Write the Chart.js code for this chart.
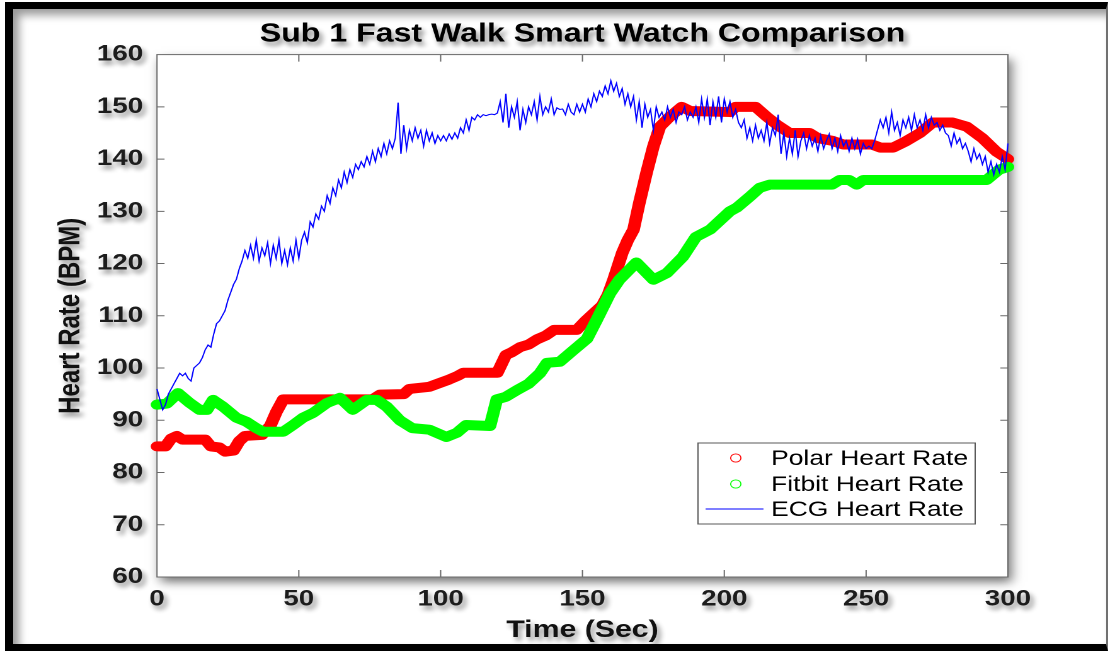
<!DOCTYPE html>
<html>
<head>
<meta charset="utf-8">
<script src="https://cdn.jsdelivr.net/npm/chart.js@4.4.1/dist/chart.umd.min.js"></script>
<style>
html,body{margin:0;padding:0;background:#fff;width:1110px;height:651px;overflow:hidden;}
#wrap{position:absolute;left:0;top:0;width:881px;height:651px;transform:scaleX(1.2599);transform-origin:0 0;}
#frame{position:absolute;left:5px;top:2px;width:1103px;height:649px;box-sizing:border-box;
  border-top:7px solid #000;border-left:8px solid #000;border-bottom:7px solid #000;border-right:2px solid #707070;
  box-shadow:inset 6px 6px 9px rgba(0,0,0,0.4);pointer-events:none;}
</style>
</head>
<body>
<div id="wrap"><canvas id="c"></canvas></div>
<div id="frame"></div>
<script>
// ---------------- data ----------------
const chartTitle = 'Sub 1 Fast Walk Smart Watch Comparison';
const xTitle = 'Time (Sec)';
const yTitle = 'Heart Rate (BPM)';
const xTicks = [0, 50, 100, 150, 200, 250, 300];
const yTicks = [60, 70, 80, 90, 100, 110, 120, 130, 140, 150, 160];
const seriesNames = ['Polar Heart Rate', 'Fitbit Heart Rate', 'ECG Heart Rate'];

const polarTime = [0,3,5,7,9,17,19,22,24,27,29,31,37,40,42,44.5,76,78.6,87,89,96,99,103,106,108,120,123,125,128,131,134,137,140,148,151,154,157,159,161,164,166,168,170,172.6,175,177.3,180.8,185,188,202,204,211,215,218.5,223,230,233,238,242,252,255,259.5,264,269,273.5,280.5,285.5,291,296,300];
const polarBpm  = [85,85,86.5,87,86.3,86.3,85,84.8,84,84.2,86,87,87.2,89,91.5,94,94,94.9,95,96,96.4,97,97.8,98.5,99.1,99.1,102.5,103,104,104.5,105.5,106.2,107.3,107.3,109,110.5,112,114,117,122,124.5,126.5,131.5,137.4,142.4,146.2,148.1,150,149.2,149,150,150,148.1,146.6,145,145,144,143.5,142.8,142.8,142.2,142.2,143.4,145,147,147,146.2,144,141.4,140];

const fitbitTime = [0,3.5,7.4,11.6,15,17.6,19.8,23.3,28,31.6,35,37.4,44.5,48,51.5,55,59.9,64.5,69,74,77.5,81,85.6,90,96,102,105.7,109,117.4,119.8,123,127,131,135,137.5,142,147,151.6,155,159.7,163,169,175,179.8,185.4,190,195,202,204.4,209,212.5,216,238,240.7,244,246.7,249,292.5,294.7,297,300];
const fitbitBpm  = [93,93.2,95.2,93.3,92,92,93.9,92.6,90.5,89.7,88.5,87.8,87.8,89.1,90.5,91.4,93.3,94.3,92,93.9,93.9,92.6,90,88.5,88.2,86.8,87.6,89.1,88.9,94,94.5,95.8,97,99,101,101.2,103.5,105.6,109.2,114.3,116.9,120.2,116.9,118.2,121.3,125.1,126.5,130,130.7,132.8,134.5,135.1,135.1,136,136,135.1,136,136,137,138,138.5];

// ECG: one reading per second starting at t = 0 s
const ecgStart = 0;
const ecgStep = 1;
const ecgBpm = [
  96,94,92,93,95,96,97,98,99,98.5,
  99,98,97.5,100,100.5,101,102,103.5,104.4,104,
  106.5,108.5,109,110,111,113,114.5,116,117,119,
  120.5,122.5,121,123.5,121,124.5,120.5,123,121.5,124,
  120,123.5,121,124.5,120,122.5,119.8,123,120.5,124.5,
  121,124.5,126,124,128,127,129.5,128.5,131,130,
  133,131.5,134.5,133,136,134.5,137.5,135.5,138,136.5,
  139,138,139.5,138.5,140.5,139,141.5,139.5,142,140.5,
  143,141,143.5,142,144,150.8,141,146.5,142,145.5,
  143.5,146,144,145.5,142.5,145.5,143.5,145,143,144.5,
  143.5,144.5,143.5,144.8,143.8,145,144,146,145,147.5,
  145.5,148,147.5,148.5,148,148.5,148.3,148.5,148.6,148.5,
  148.8,151,147,152.5,146,150,148,151,145.5,149.5,
  147,150,148.5,151,147.5,152,148.5,150,149,151.5,
  148.5,149.8,149.5,149.6,148.5,150.5,149,148.5,150.5,149,
  150.5,149,151.5,150,152.5,151,153,152,154,152.5,
  155,153,154.5,152,153.5,150.5,152.5,150,152,147.5,
  151,146,150.5,148,149.5,145.5,150,148,149,147.5,
  150,148,149.5,147,149,148.5,150,147.5,149,148,
  150,147,151.5,148,151.5,146.5,151,148,152,147,
  151.5,149,151,148,149.5,147,146,147.5,144,146,
  143.5,146.5,144,145.5,143.5,147,143,146,144.5,148.5,
  141,145,140.5,144,141,145.5,140.5,143.5,145,142,
  144.5,142.5,144,141.5,144.5,142,143.5,144.8,142,144,
  141.5,144.5,142.5,143.5,141.5,144,142,143.8,141,143,
  142,142.5,142,143.5,145.5,147.5,146,148,145,149,
  145.5,147,144.5,147.5,146,148,145.5,148.5,146,147.5,
  145.5,148.5,146,148,146.5,147,145.5,146.5,145,144.5,
  142.5,145,143,144,142,143,141.5,139.5,142,140,
  141,139,140.5,137.5,139.5,137,139,137.5,140.5,138,
  143
];

// ---------------- chart ----------------
const DPR = 2;
const FONT = "'Liberation Sans', Arial, Helvetica, sans-serif";
const seriesColors = ['#ff0000', '#00ff00', '#0000ff'];

function setShadow(ctx, color, blur, ox, oy) {
  ctx.shadowColor = color;
  ctx.shadowBlur = blur * DPR;
  ctx.shadowOffsetX = ox * DPR;
  ctx.shadowOffsetY = oy * DPR;
}

const matlabLook = {
  id: 'matlabLook',
  beforeDraw(chart) {
    const {ctx, chartArea: a} = chart;
    ctx.save();
    ctx.fillStyle = '#ffffff';
    setShadow(ctx, 'rgba(0,0,0,0.55)', 9, 3, 5);
    ctx.fillRect(a.left, a.top, a.right - a.left, a.bottom - a.top);
    ctx.restore();
    // text shadow for titles and tick labels
    setShadow(ctx, 'rgba(0,0,0,0.45)', 5, 2.5, 4);
  },
  beforeDatasetsDraw(chart) {
    const {ctx, chartArea: a, scales} = chart;
    setShadow(ctx, 'rgba(0,0,0,0)', 0, 0, 0);
    ctx.save();
    ctx.strokeStyle = '#6a6a6a';
    ctx.lineWidth = 1;
    ctx.strokeRect(a.left, a.top, a.right - a.left, a.bottom - a.top);
    ctx.beginPath();
    const tl = 6;
    scales.x.ticks.forEach(t => {
      const px = scales.x.getPixelForValue(t.value);
      if (px <= a.left + 1 || px >= a.right - 1) return;
      ctx.moveTo(px, a.bottom); ctx.lineTo(px, a.bottom - tl - 1);
      ctx.moveTo(px, a.top); ctx.lineTo(px, a.top + tl + 1);
    });
    scales.y.ticks.forEach(t => {
      const py = scales.y.getPixelForValue(t.value);
      if (py <= a.top + 1 || py >= a.bottom - 1) return;
      ctx.moveTo(a.left, py); ctx.lineTo(a.left + tl, py);
      ctx.moveTo(a.right, py); ctx.lineTo(a.right - tl, py);
    });
    ctx.stroke();
    ctx.restore();
  },
  afterDraw(chart) {
    const ctx = chart.ctx;
    setShadow(ctx, 'rgba(0,0,0,0)', 0, 0, 0);
    ctx.save();
    const box = {x: 554, y: 443, w: 220, h: 81};
    ctx.fillStyle = '#ffffff';
    ctx.fillRect(box.x, box.y, box.w, box.h);
    ctx.strokeStyle = '#5a5a5a';
    ctx.lineWidth = 1;
    ctx.strokeRect(box.x, box.y, box.w, box.h);
    const rows = [458, 484, 509];
    ctx.font = '21px ' + FONT;
    ctx.textBaseline = 'middle';
    ctx.textAlign = 'left';
    chart.data.datasets.forEach((ds, i) => {
      const y = rows[i];
      ctx.strokeStyle = ds.borderColor;
      if (i < 2) {
        ctx.lineWidth = 0.9;
        ctx.beginPath();
        ctx.arc(584, y, 4.1, 0, Math.PI * 2);
        ctx.stroke();
      } else {
        ctx.lineWidth = 1;
        ctx.beginPath();
        ctx.moveTo(560, y); ctx.lineTo(606, y);
        ctx.stroke();
      }
      ctx.fillStyle = '#000000';
      ctx.fillText(ds.label, 612, y + 1);
    });
    ctx.restore();
  }
};

const pairs = (xs, ys) => xs.map((x, i) => ({x: x, y: ys[i]}));

new Chart(document.getElementById('c'), {
  type: 'line',
  data: {
    datasets: [
      {label: seriesNames[0], data: pairs(polarTime, polarBpm), borderColor: seriesColors[0],
       borderWidth: 10, pointRadius: 0, borderCapStyle: 'round', borderJoinStyle: 'round',
       tension: 0, clip: false, order: 3},
      {label: seriesNames[1], data: pairs(fitbitTime, fitbitBpm), borderColor: seriesColors[1],
       borderWidth: 10, pointRadius: 0, borderCapStyle: 'round', borderJoinStyle: 'round',
       tension: 0, clip: false, order: 2},
      {label: seriesNames[2], data: ecgBpm.map((v, i) => ({x: ecgStart + i * ecgStep, y: v})),
       borderColor: seriesColors[2], borderWidth: 1.05, pointRadius: 0, tension: 0, clip: false, order: 1}
    ]
  },
  options: {
    responsive: true,
    maintainAspectRatio: false,
    devicePixelRatio: DPR,
    animation: false,
    events: [],
    layout: {padding: {left: 0, right: 81, top: 0, bottom: 0}},
    plugins: {
      legend: {display: false},
      tooltip: {enabled: false},
      title: {
        display: true, text: chartTitle, fullSize: false, color: '#000',
        font: {family: FONT, size: 25.5, weight: 'bold', lineHeight: 1.2},
        padding: {top: 19, bottom: 5}
      }
    },
    scales: {
      x: {
        type: 'linear', min: xTicks[0], max: xTicks[xTicks.length - 1],
        afterFit(s) { s.height = 74; },
        afterBuildTicks(s) { s.ticks = xTicks.map(v => ({value: v})); },
        grid: {display: false, drawTicks: false},
        border: {display: false},
        ticks: {padding: 9, color: '#1c1c1c', maxRotation: 0, autoSkip: false,
                font: {family: FONT, size: 22, weight: 'bold'}},
        title: {display: true, text: xTitle, color: '#111',
                font: {family: FONT, size: 24, weight: 'bold'}, padding: {top: 0, bottom: 6}}
      },
      y: {
        type: 'linear', min: yTicks[0], max: yTicks[yTicks.length - 1],
        afterFit(s) { s.width = 124.6; },
        afterBuildTicks(s) { s.ticks = yTicks.map(v => ({value: v})); },
        grid: {display: false, drawTicks: false},
        border: {display: false},
        ticks: {padding: 11, color: '#1c1c1c', autoSkip: false,
                font: {family: FONT, size: 22, weight: 'bold'}},
        title: {display: true, text: yTitle, color: '#111',
                font: {family: FONT, size: 24, weight: 'bold'}, padding: {top: 42, bottom: 0}}
      }
    }
  },
  plugins: [matlabLook]
});
</script>
</body>
</html>
